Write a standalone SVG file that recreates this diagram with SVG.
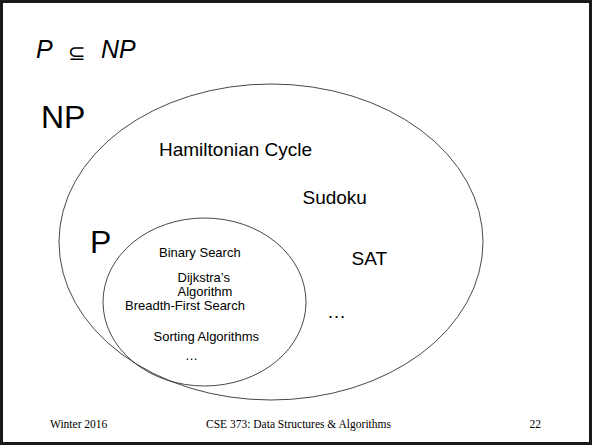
<svg xmlns="http://www.w3.org/2000/svg" width="592" height="445" viewBox="0 0 592 445">
<style>
.s{font-family:"Liberation Sans",Arial,sans-serif;fill:#000}
.f{font-family:"Liberation Serif","Times New Roman",serif;font-size:11.5px;fill:#000}
.e{fill:none;stroke:#333;stroke-width:0.9}
.big{font-size:32px}
.mid{font-size:19px}
.sm{font-size:13px}
</style>
<rect x="0" y="0" width="592" height="445" fill="#fff"/>
<rect x="1.5" y="1.5" width="589" height="442" fill="none" stroke="#1a1a1a" stroke-width="3"/>
<g id="title">
<text class="s" x="36" y="58" font-size="25" font-style="italic">P</text>
<text class="s" x="68" y="60" font-size="21">⊆</text>
<text class="s" x="101" y="58" font-size="25" font-style="italic">NP</text>
</g>
<g id="np">
<ellipse class="e" cx="271" cy="242" rx="212" ry="158"/>
<text class="s big" x="41" y="128">NP</text>
<text class="s mid" x="159" y="156">Hamiltonian Cycle</text>
<text class="s mid" x="302.5" y="204">Sudoku</text>
<text class="s mid" x="351.5" y="265">SAT</text>
<text class="s mid" x="327" y="318">…</text>
</g>
<g id="p">
<ellipse class="e" cx="204.5" cy="302" rx="101.5" ry="84"/>
<text class="s big" x="90" y="253">P</text>
<text class="s sm" x="159" y="257">Binary Search</text>
<text class="s sm" x="177.5" y="282">Dijkstra’s</text>
<text class="s sm" x="177.5" y="296">Algorithm</text>
<text class="s sm" x="125" y="310">Breadth-First Search</text>
<text class="s sm" x="153.5" y="341">Sorting Algorithms</text>
<text class="s sm" x="185" y="360">…</text>
</g>
<g id="connectors"/>
<g id="footer">
<text class="f" x="50" y="428">Winter 2016</text>
<text class="f" x="206" y="428">CSE 373: Data Structures &amp; Algorithms</text>
<text class="f" x="529.5" y="428">22</text>
</g>
</svg>
